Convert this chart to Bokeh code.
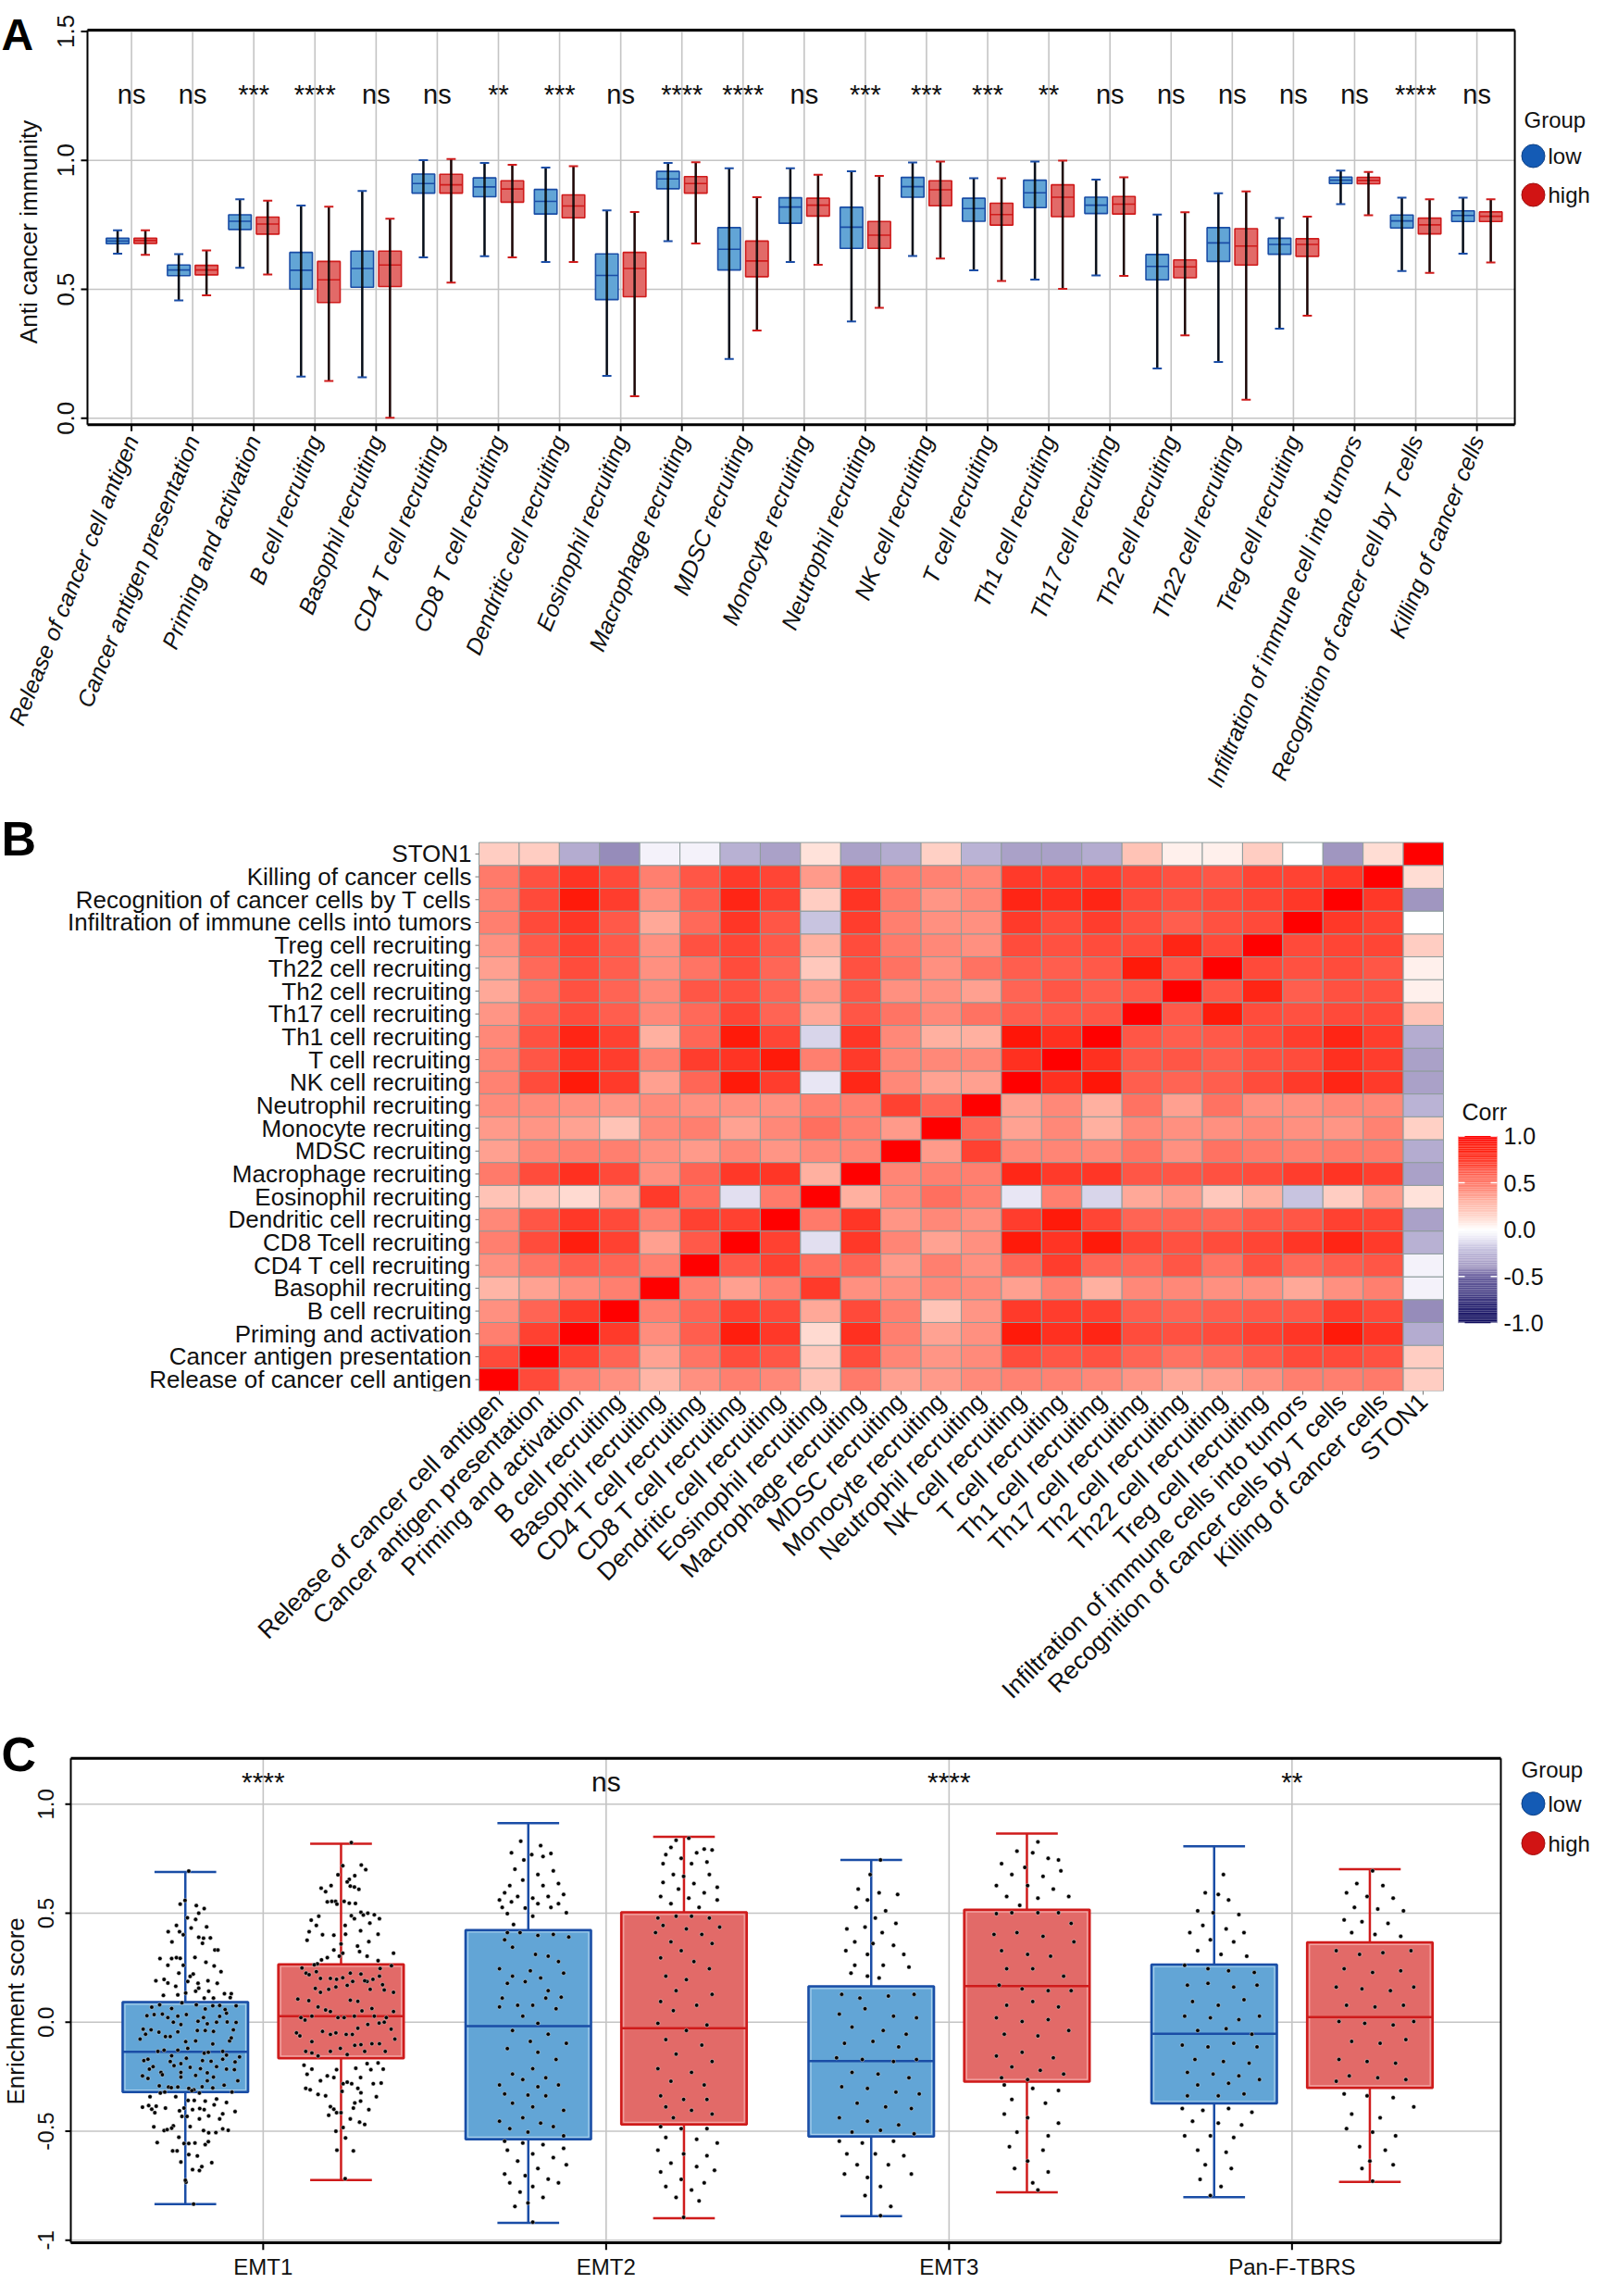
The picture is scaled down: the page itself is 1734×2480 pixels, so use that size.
import math
import numpy as np
from bokeh.plotting import figure
from bokeh.models import Range1d, FixedTicker, ColumnDataSource
from bokeh.layouts import column, row
from bokeh.embed import file_html
from bokeh.resources import INLINE
from bokeh.core.properties import value

FONT = "Liberation Sans"
TXT = "#111111"
BLUE_FILL, BLUE_LINE, BLUE_IN = "#62A5D6", "#1A4DA6", "#A9CFEC"
RED_FILL, RED_LINE, RED_IN = "#E26A68", "#CF1B1B", "#F3A8A6"
LEG_BLUE, LEG_RED = "#145BB5", "#D11414"
GRID = "#C4C4C4"
W = 1718

# ------------------------------------------------------------------ data A
a_categories = ["Release of cancer cell antigen", "Cancer antigen presentation",
                "Priming and activation", "B cell recruiting", "Basophil recruiting",
                "CD4 T cell recruiting", "CD8 T cell recruiting", "Dendritic cell recruiting",
                "Eosinophil recruiting", "Macrophage recruiting", "MDSC recruiting",
                "Monocyte recruiting", "Neutrophil recruiting", "NK cell recruiting",
                "T cell recruiting", "Th1 cell recruiting", "Th17 cell recruiting",
                "Th2 cell recruiting", "Th22 cell recruiting", "Treg cell recruiting",
                "Infiltration of immune cell into tumors", "Recognition of cancer cell by T cells",
                "Killing of cancer cells"]
a_signif = ["ns", "ns", "***", "****", "ns", "ns", "**", "***", "ns", "****", "****", "ns",
            "***", "***", "***", "**", "ns", "ns", "ns", "ns", "ns", "****", "ns"]
a_low_min = [0.638, 0.457, 0.583, 0.162, 0.159, 0.624, 0.628, 0.606, 0.164, 0.687, 0.230, 0.606,
             0.375, 0.629, 0.574, 0.538, 0.554, 0.193, 0.218, 0.347, 0.830, 0.571, 0.638]
a_low_q1 = [0.677, 0.553, 0.732, 0.501, 0.508, 0.873, 0.859, 0.792, 0.460, 0.890, 0.575, 0.756,
            0.659, 0.857, 0.764, 0.817, 0.794, 0.537, 0.608, 0.636, 0.910, 0.738, 0.763]
a_low_med = [0.687, 0.575, 0.764, 0.574, 0.581, 0.910, 0.897, 0.841, 0.554, 0.928, 0.655, 0.819,
             0.741, 0.898, 0.813, 0.874, 0.826, 0.589, 0.680, 0.674, 0.923, 0.765, 0.786]
a_low_q3 = [0.698, 0.594, 0.789, 0.643, 0.648, 0.947, 0.932, 0.887, 0.637, 0.957, 0.739, 0.855,
            0.818, 0.934, 0.853, 0.923, 0.857, 0.635, 0.739, 0.698, 0.935, 0.788, 0.804]
a_low_max = [0.729, 0.636, 0.849, 0.825, 0.881, 1.001, 0.990, 0.972, 0.806, 0.990, 0.969, 0.969,
             0.958, 0.992, 0.931, 0.995, 0.925, 0.790, 0.872, 0.776, 0.960, 0.855, 0.855]
a_high_min = [0.634, 0.477, 0.557, 0.145, 0.002, 0.526, 0.624, 0.606, 0.085, 0.678, 0.340, 0.595,
              0.428, 0.619, 0.532, 0.502, 0.552, 0.321, 0.072, 0.398, 0.787, 0.564, 0.604]
a_high_q1 = [0.678, 0.556, 0.714, 0.449, 0.511, 0.873, 0.838, 0.777, 0.471, 0.873, 0.549, 0.784,
             0.659, 0.824, 0.749, 0.782, 0.792, 0.545, 0.594, 0.628, 0.909, 0.715, 0.763]
a_high_med = [0.689, 0.575, 0.753, 0.537, 0.594, 0.905, 0.889, 0.823, 0.581, 0.910, 0.610, 0.826,
              0.710, 0.886, 0.790, 0.857, 0.830, 0.587, 0.668, 0.674, 0.922, 0.750, 0.783]
a_high_q3 = [0.698, 0.593, 0.780, 0.608, 0.648, 0.946, 0.921, 0.866, 0.643, 0.937, 0.687, 0.853,
             0.763, 0.921, 0.834, 0.905, 0.860, 0.614, 0.735, 0.696, 0.934, 0.776, 0.800]
a_high_max = [0.729, 0.651, 0.844, 0.820, 0.774, 1.005, 0.983, 0.977, 0.800, 0.993, 0.857, 0.944,
              0.940, 0.995, 0.931, 0.999, 0.934, 0.799, 0.880, 0.782, 0.955, 0.849, 0.849]
a_yticks = [0.0, 0.5, 1.0, 1.5]
a_ytitle = "Anti cancer immunity"
group_names = ["low", "high"]

# ------------------------------------------------------------------ data B
hm_x_labels = ["Release of cancer cell antigen", "Cancer antigen presentation",
               "Priming and activation", "B cell recruiting", "Basophil recruiting",
               "CD4 T cell recruiting", "CD8 T cell recruiting", "Dendritic cell recruiting",
               "Eosinophil recruiting", "Macrophage recruiting", "MDSC recruiting",
               "Monocyte recruiting", "Neutrophil recruiting", "NK cell recruiting",
               "T cell recruiting", "Th1 cell recruiting", "Th17 cell recruiting",
               "Th2 cell recruiting", "Th22 cell recruiting", "Treg cell recruiting",
               "Infiltration of immune cells into tumors", "Recognition of cancer cells by T cells",
               "Killing of cancer cells", "STON1"]
hm_y_labels = ["Release of cancer cell antigen", "Cancer antigen presentation",
               "Priming and activation", "B cell recruiting", "Basophil recruiting",
               "CD4 T cell recruiting", "CD8 Tcell recruiting", "Dendritic cell recruiting",
               "Eosinophil recruiting", "Macrophage recruiting", "MDSC recruiting",
               "Monocyte recruiting", "Neutrophil recruiting", "NK cell recruiting",
               "T cell recruiting", "Th1 cell recruiting", "Th17 cell recruiting",
               "Th2 cell recruiting", "Th22 cell recruiting", "Treg cell recruiting",
               "Infiltration of immune cells into tumors", "Recognition of cancer cells by T cells",
               "Killing of cancer cells", "STON1"]
# lower triangle of the correlation matrix (row i: columns 0..i-1), diagonal = 1
hm_corr_lower = [
    [],
    [0.68],
    [0.48, 0.72],
    [0.42, 0.58, 0.75],
    [0.28, 0.35, 0.43, 0.48],
    [0.42, 0.52, 0.60, 0.58, 0.48],
    [0.48, 0.67, 0.88, 0.72, 0.36, 0.62],
    [0.45, 0.63, 0.76, 0.68, 0.48, 0.72, 0.72],
    [0.22, 0.20, 0.13, 0.33, 0.75, 0.54, -0.12, 0.50],
    [0.50, 0.67, 0.80, 0.68, 0.42, 0.58, 0.76, 0.77, 0.30],
    [0.36, 0.46, 0.48, 0.48, 0.42, 0.38, 0.46, 0.40, 0.45, 0.46],
    [0.38, 0.40, 0.35, 0.22, 0.45, 0.48, 0.35, 0.45, 0.54, 0.48, 0.38],
    [0.44, 0.44, 0.42, 0.40, 0.44, 0.42, 0.42, 0.42, 0.48, 0.48, 0.72, 0.57],
    [0.47, 0.67, 0.90, 0.75, 0.36, 0.57, 0.90, 0.74, -0.10, 0.84, 0.45, 0.35, 0.36],
    [0.47, 0.63, 0.80, 0.74, 0.48, 0.74, 0.78, 0.90, 0.48, 0.75, 0.46, 0.45, 0.45, 0.80],
    [0.45, 0.65, 0.85, 0.72, 0.30, 0.57, 0.90, 0.70, -0.15, 0.77, 0.45, 0.30, 0.30, 0.92, 0.80],
    [0.40, 0.58, 0.67, 0.60, 0.45, 0.56, 0.70, 0.58, 0.33, 0.63, 0.52, 0.45, 0.53, 0.60, 0.62, 0.63],
    [0.33, 0.53, 0.65, 0.58, 0.45, 0.63, 0.65, 0.58, 0.38, 0.63, 0.42, 0.42, 0.36, 0.58, 0.63, 0.60, 0.62],
    [0.36, 0.56, 0.67, 0.60, 0.42, 0.52, 0.67, 0.57, 0.20, 0.65, 0.53, 0.42, 0.53, 0.60, 0.60, 0.62, 0.90, 0.63],
    [0.42, 0.62, 0.72, 0.62, 0.42, 0.65, 0.70, 0.62, 0.30, 0.67, 0.50, 0.45, 0.42, 0.67, 0.65, 0.67, 0.67, 0.85, 0.68],
    [0.48, 0.68, 0.77, 0.62, 0.33, 0.56, 0.77, 0.63, -0.20, 0.74, 0.48, 0.42, 0.42, 0.75, 0.67, 0.74, 0.65, 0.60, 0.65, 0.68],
    [0.48, 0.68, 0.90, 0.74, 0.42, 0.60, 0.85, 0.72, 0.18, 0.78, 0.50, 0.40, 0.45, 0.85, 0.80, 0.85, 0.68, 0.65, 0.67, 0.70, 0.76],
    [0.50, 0.65, 0.78, 0.68, 0.48, 0.63, 0.75, 0.70, 0.38, 0.73, 0.50, 0.47, 0.45, 0.75, 0.74, 0.74, 0.68, 0.65, 0.63, 0.70, 0.71, 0.76],
    [0.18, 0.18, -0.30, -0.42, -0.05, -0.05, -0.28, -0.35, 0.10, -0.35, -0.30, 0.17, -0.27, -0.35, -0.35, -0.30, 0.22, 0.05, 0.05, 0.18, 0.00, -0.40, 0.12],
]
cb_ticks = [-1.0, -0.5, 0.0, 0.5, 1.0]
cb_title = "Corr"

# ------------------------------------------------------------------ data C
c_categories = ["EMT1", "EMT2", "EMT3", "Pan-F-TBRS"]
c_signif = ["****", "ns", "****", "**"]
c_low_min = [-0.834, -0.920, -0.890, -0.802]
c_low_q1 = [-0.321, -0.537, -0.524, -0.373]
c_low_med = [-0.136, -0.018, -0.178, -0.053]
c_low_q3 = [0.092, 0.423, 0.165, 0.265]
c_low_max = [0.689, 0.913, 0.744, 0.807]
c_high_min = [-0.724, -0.899, -0.780, -0.732]
c_high_q1 = [-0.165, -0.469, -0.273, -0.301]
c_high_med = [0.028, -0.027, 0.166, 0.023]
c_high_q3 = [0.266, 0.504, 0.516, 0.366]
c_high_max = [0.819, 0.850, 0.865, 0.702]
c_yticks = [-1.0, -0.5, 0.0, 0.5, 1.0]
c_ytick_labels = ["-1", "-0.5", "0.0", "0.5", "1.0"]
c_ytitle = "Enrichment score"

# sample points (offset from box centre in category units, score)
c_emt1_low_dx = [0.010,-0.001,-0.015,0.032,0.055,0.039,0.006,0.030,-0.026,0.017,0.062,-0.050,-0.017,-0.006,0.039,0.053,0.073,-0.039,0.050,0.086,0.095,-0.074,-0.040,-0.026,-0.015,0.028,-0.051,-0.006,0.060,0.084,-0.019,0.104,0.023,0.014,-0.086,-0.062,-0.051,0.007,0.037,0.066,0.093,-0.028,0.039,0.030,0.068,0.114,0.134,-0.064,-0.022,0.001,0.055,0.082,0.131,-0.010,
    -0.098,-0.075,-0.040,0.032,0.058,0.080,0.100,0.116,0.148,-0.112,-0.091,-0.067,-0.051,-0.022,0.003,0.053,0.100,0.120,-0.035,-0.013,0.037,0.064,0.091,0.122,0.148,-0.123,-0.100,-0.116,-0.077,-0.058,-0.044,-0.022,0.035,0.058,0.082,0.140,-0.132,0.001,0.030,0.080,0.129,0.134,-0.080,-0.062,-0.040,-0.022,0.007,0.055,0.067,0.109,0.120,0.158,-0.121,-0.109,-0.094,-0.071,-0.044,-0.013,0.003,0.050,0.075,0.109,0.145,-0.105,-0.067,-0.033,-0.013,0.014,0.044,0.064,0.091,0.120,0.143,-0.125,-0.109,-0.013,0.030,0.082,0.064,0.153,-0.076,-0.049,-0.041,-0.022,0.010,0.025,0.049,0.080,0.113,-0.073,0.019,0.041,0.136,
    -0.103,-0.060,-0.028,0.008,0.026,0.058,0.091,0.120,-0.125,-0.107,-0.098,-0.085,-0.058,-0.017,-0.004,0.021,0.042,0.055,0.084,0.109,0.145,-0.089,-0.010,0.005,0.041,0.068,0.100,-0.092,-0.062,-0.053,-0.035,-0.040,0.014,0.053,0.068,0.089,0.109,0.125,-0.019,-0.082,-0.004,0.010,0.028,0.058,0.067,-0.037,-0.024,0.010,0.035,-0.013,0.021,0.041,0.048,0.077,0.002,0.024,0.000]
c_emt1_low_y = [0.693,0.559,0.542,0.535,0.521,0.500,0.479,0.472,0.444,0.432,0.437,0.415,0.415,0.401,0.390,0.385,0.387,0.368,0.362,0.331,0.331,0.292,0.292,0.296,0.293,0.297,0.261,0.261,0.275,0.258,0.225,0.232,0.221,0.210,0.190,0.196,0.180,0.187,0.179,0.190,0.179,0.165,0.156,0.142,0.142,0.131,0.131,0.123,0.125,0.134,0.111,0.111,0.113,0.089,
    0.069,0.080,0.063,0.080,0.061,0.075,0.077,0.058,0.075,0.030,0.035,0.037,0.021,0.028,0.035,0.021,0.027,0.041,0.000,-0.011,0.004,-0.007,0.000,0.001,-0.001,-0.032,-0.035,-0.055,-0.046,-0.066,-0.066,-0.044,-0.038,-0.038,-0.042,-0.035,-0.077,-0.089,-0.086,-0.100,-0.086,-0.072,-0.134,-0.128,-0.154,-0.128,-0.120,-0.142,-0.138,-0.134,-0.151,-0.159,-0.176,-0.170,-0.204,-0.230,-0.180,-0.190,-0.165,-0.176,-0.179,-0.170,-0.182,-0.215,-0.241,-0.199,-0.230,-0.207,-0.213,-0.232,-0.204,-0.215,-0.218,-0.246,-0.258,-0.252,-0.244,-0.252,-0.269,-0.269,-0.292,-0.297,-0.300,-0.297,-0.303,-0.310,-0.296,-0.301,-0.289,-0.325,-0.314,-0.325,-0.320,
    -0.342,-0.320,-0.342,-0.359,-0.359,-0.362,-0.352,-0.368,-0.390,-0.382,-0.399,-0.385,-0.394,-0.406,-0.394,-0.401,-0.396,-0.401,-0.379,-0.420,-0.410,-0.415,-0.432,-0.432,-0.444,-0.430,-0.444,-0.480,-0.497,-0.493,-0.475,-0.486,-0.479,-0.497,-0.507,-0.506,-0.489,-0.496,-0.528,-0.552,-0.556,-0.556,-0.554,-0.561,-0.548,-0.590,-0.590,-0.607,-0.613,-0.641,-0.676,-0.680,-0.662,-0.644,-0.734,-0.834,-0.725]

c_emt1_high_pts = [(0.030,0.824),(0.005,0.718),(0.059,0.721),(0.072,0.700),(-0.009,0.676),(0.024,0.655),(0.018,0.644),(0.040,0.672),(-0.058,0.615),(-0.045,0.599),(-0.029,0.627),(0.027,0.624),(0.039,0.620),(0.052,0.610),(-0.040,0.552),(-0.027,0.554),(-0.016,0.554),(-0.012,0.542),(0.009,0.554),(0.024,0.546),(0.042,0.545),(0.030,0.489),(0.039,0.475),(0.058,0.504),(0.065,0.492),(0.078,0.500),(0.097,0.493),(0.112,0.475),(0.084,0.455),(-0.087,0.468),(-0.065,0.486),(-0.072,0.444),(-0.093,0.415),(-0.099,0.376),(-0.054,0.401),(-0.021,0.399),(0.012,0.444),(0.013,0.404),(0.057,0.420),(0.108,0.404),(0.081,0.370),(0.000,0.359),(0.048,0.349),(0.054,0.324),(-0.021,0.331),(0.005,0.317),(-0.005,0.303),(0.153,0.317),(0.108,0.282),(0.076,0.303),(-0.040,0.296),(-0.057,0.286),(-0.069,0.268),(-0.078,0.263),
    (-0.114,0.249),(-0.102,0.225),(-0.093,0.218),(-0.072,0.232),(-0.060,0.201),(-0.031,0.201),(-0.013,0.197),(0.005,0.204),(0.027,0.225),(0.058,0.221),(0.076,0.187),(0.093,0.197),(0.114,0.246),(0.147,0.259),(0.112,0.211),(0.121,0.172),
    (-0.126,0.106),(-0.094,0.099),(-0.075,0.155),(-0.060,0.137),(-0.036,0.151),(-0.015,0.162),(0.018,0.169),(0.034,0.187),(0.069,0.190),(0.085,0.151),(0.126,0.148),(0.153,0.137),(0.027,0.101),(0.049,0.096),
    (-0.117,0.021),(-0.105,0.010),(-0.085,0.028),(-0.067,0.070),(-0.045,0.056),(-0.031,0.049),(-0.009,0.021),(0.009,0.021),(0.039,0.028),(0.061,0.052),(0.090,0.063),(0.097,0.028),(0.132,0.021),(0.153,0.049),
    (-0.130,-0.049),(-0.120,-0.063),(-0.085,-0.089),(-0.054,-0.042),(-0.031,-0.056),(-0.015,-0.049),(0.015,-0.056),(0.033,-0.056),(0.049,-0.028),(0.078,-0.010),(0.111,-0.004),(0.126,0.000),(0.146,-0.032),(0.157,-0.077),(0.112,-0.099),
    (-0.103,-0.134),(-0.085,-0.141),(-0.067,-0.155),(-0.031,-0.134),(-0.002,-0.120),(0.018,-0.148),(0.040,-0.106),(0.058,-0.103),(0.069,-0.134),(0.090,-0.099),(0.129,-0.134),
    (-0.108,-0.197),(-0.099,-0.239),(-0.085,-0.215),(-0.060,-0.268),(-0.040,-0.246),(-0.021,-0.254),(-0.013,-0.218),(0.006,-0.282),(0.018,-0.275),(0.031,-0.282),(0.043,-0.211),(0.057,-0.254),(0.076,-0.190),(0.087,-0.218),(0.108,-0.187),(0.123,-0.215),
    (-0.103,-0.303),(-0.090,-0.310),(-0.067,-0.331),(-0.045,-0.338),(0.003,-0.317),(0.049,-0.303),(0.058,-0.324),(0.094,-0.282),(0.103,-0.342),(0.117,-0.279),
    (-0.031,-0.387),(-0.021,-0.399),(-0.036,-0.427),(-0.013,-0.415),(0.000,-0.415),(0.040,-0.370),(0.057,-0.362),(0.036,-0.394),(0.027,-0.444),(0.054,-0.458),(0.069,-0.469),(0.081,-0.401),
    (-0.015,-0.500),(0.006,-0.483),(0.013,-0.531),(-0.012,-0.587),(0.036,-0.590),(0.012,-0.718)]

c_emt2_low_pts = [(-0.022,0.830),(0.036,0.810),(-0.049,0.777),(0.010,0.769),(0.066,0.774),(-0.013,0.744),(0.043,0.760),(-0.039,0.702),(0.073,0.694),(0.028,0.677),(-0.016,0.652),(0.088,0.636),(-0.054,0.627),(0.043,0.627),(-0.069,0.594),(-0.031,0.577),(0.013,0.569),(0.058,0.577),(0.103,0.586),(-0.084,0.561),(-0.049,0.552),(0.028,0.544),(0.088,0.544),(-0.076,0.527),(-0.009,0.524),(0.066,0.527),(0.111,0.502),(-0.061,0.498),(0.013,0.486),(-0.043,0.448),(-0.061,0.411),(-0.024,0.411),(0.028,0.398),(0.073,0.403),(0.118,0.391),(-0.069,0.378),(-0.046,0.344),(0.021,0.311),(0.058,0.303),(0.088,0.278),(-0.084,0.245),(0.006,0.236),(-0.046,0.211),(0.036,0.203),(0.103,0.225),(-0.061,0.178),(-0.009,0.186),(0.058,0.145),(-0.076,0.111),(0.051,0.111),(0.096,0.115),(0.013,0.078),(-0.084,0.070),(-0.031,0.078),(0.081,0.062),(-0.016,0.028),(0.028,-0.005),(-0.046,-0.038),(0.058,-0.055),(0.111,-0.097),(0.006,-0.088),(-0.061,-0.121),(0.028,-0.138),(0.081,-0.171),(0.013,-0.213),(-0.046,-0.238),(0.051,-0.255),(-0.016,-0.263),(-0.084,-0.288),(0.028,-0.296),(0.088,-0.288),(-0.001,-0.334),(0.051,-0.338),(-0.069,-0.329),(-0.046,-0.371),(0.103,-0.404),(0.013,-0.388),(-0.016,-0.438),(-0.084,-0.454),(0.036,-0.463),(0.073,-0.479),(-0.054,-0.488),(-0.001,-0.504),(0.103,-0.521),(-0.069,-0.546),(-0.016,-0.554),(0.043,-0.562),(0.103,-0.579),(-0.061,-0.587),(0.013,-0.604),(0.073,-0.621),(-0.031,-0.637),(0.111,-0.654),(0.028,-0.671),(-0.069,-0.696),(-0.009,-0.704),(0.058,-0.720),(-0.054,-0.737),(0.013,-0.754),(0.088,-0.737),(-0.024,-0.779),(0.043,-0.804),(-0.001,-0.829),(-0.039,-0.845),(0.013,-0.917)]

c_emt2_high_pts = [(-0.023,0.835),(0.014,0.844),(-0.038,0.802),(0.059,0.794),(0.082,0.790),(-0.053,0.769),(-0.008,0.752),(0.037,0.777),(-0.061,0.727),(0.022,0.727),(0.067,0.735),(-0.031,0.677),(-0.001,0.669),(0.074,0.677),(-0.061,0.641),(0.029,0.636),(0.097,0.619),(-0.016,0.611),(0.059,0.594),(-0.068,0.577),(0.014,0.569),(0.097,0.561),(-0.038,0.544),(0.044,0.527),(-0.076,0.478),(-0.023,0.486),(0.022,0.486),(0.074,0.478),(-0.061,0.444),(0.007,0.428),(0.104,0.436),(-0.083,0.411),(0.052,0.403),(-0.038,0.369),(0.082,0.361),(-0.008,0.328),(-0.068,0.295),(0.029,0.278),(0.074,0.245),(-0.053,0.211),(0.007,0.195),(-0.023,0.145),(0.082,0.128),(-0.068,0.095),(0.037,0.078),(-0.031,0.053),(-0.076,-0.005),(0.067,-0.013),(0.007,-0.038),(-0.053,-0.080),(0.052,-0.105),(-0.023,-0.146),(0.082,-0.180),(-0.076,-0.213),(0.022,-0.230),(-0.038,-0.271),(0.059,-0.288),(-0.068,-0.338),(-0.001,-0.354),(0.067,-0.354),(-0.053,-0.388),(0.022,-0.404),(0.082,-0.421),(-0.031,-0.438),(-0.068,-0.479),(-0.008,-0.488),(0.067,-0.488),(-0.053,-0.529),(0.037,-0.537),(0.097,-0.554),(-0.076,-0.587),(-0.001,-0.604),(0.067,-0.612),(-0.038,-0.646),(0.037,-0.662),(-0.068,-0.687),(0.089,-0.679),(-0.008,-0.721),(0.059,-0.737),(-0.053,-0.754),(0.022,-0.770),(-0.023,-0.804),(0.044,-0.820),(-0.001,-0.895)]

c_emt3_low_pts = [(0.027,0.744),(-0.003,0.677),(-0.038,0.611),(0.023,0.594),(0.077,0.586),(-0.011,0.561),(-0.044,0.527),(0.042,0.511),(0.012,0.478),(0.072,0.453),(-0.071,0.428),(-0.018,0.436),(0.032,0.411),(-0.048,0.369),(0.005,0.361),(0.065,0.353),(-0.074,0.328),(-0.011,0.311),(0.095,0.311),(-0.048,0.261),(0.035,0.261),(0.110,0.253),(-0.059,0.225),(-0.011,0.211),(0.023,0.203),(-0.086,0.128),(-0.033,0.111),(0.050,0.120),(0.125,0.128),(-0.093,0.037),(-0.018,0.062),(0.065,0.028),(0.132,0.020),(-0.056,-0.022),(0.035,-0.038),(0.102,-0.055),(-0.078,-0.097),(0.005,-0.088),(0.080,-0.113),(-0.101,-0.163),(-0.026,-0.171),(0.065,-0.180),(0.132,-0.171),(-0.056,-0.230),(0.020,-0.238),(0.110,-0.255),(-0.086,-0.296),(-0.011,-0.304),(0.072,-0.321),(0.140,-0.329),(-0.041,-0.371),(0.042,-0.388),(0.117,-0.396),(-0.093,-0.438),(-0.011,-0.454),(0.080,-0.471),(-0.056,-0.504),(0.027,-0.496),(0.125,-0.512),(-0.093,-0.546),(-0.026,-0.554),(0.065,-0.546),(-0.071,-0.604),(0.012,-0.604),(0.095,-0.612),(-0.041,-0.654),(0.050,-0.654),(0.117,-0.696),(-0.078,-0.696),(-0.011,-0.712),(0.027,-0.754),(-0.018,-0.795),(0.057,-0.845),(0.027,-0.887)]

c_emt3_high_pts = [(0.032,0.827),(-0.029,0.785),(0.017,0.777),(0.062,0.752),(-0.074,0.727),(-0.006,0.710),(0.092,0.744),(-0.044,0.677),(0.047,0.669),(0.099,0.694),(-0.089,0.627),(0.002,0.627),(0.077,0.611),(-0.059,0.577),(0.032,0.569),(0.122,0.577),(-0.021,0.536),(-0.089,0.498),(-0.044,0.502),(0.032,0.502),(0.092,0.502),(0.129,0.453),(-0.096,0.403),(-0.029,0.411),(0.047,0.394),(0.137,0.369),(-0.074,0.328),(0.002,0.311),(0.069,0.303),(-0.059,0.245),(0.017,0.245),(0.107,0.211),(-0.081,0.170),(-0.014,0.153),(0.062,0.145),(0.129,0.145),(-0.059,0.078),(0.017,0.095),(0.092,0.070),(-0.089,0.020),(-0.014,0.003),(0.062,0.012),(0.122,-0.038),(-0.066,-0.055),(0.032,-0.063),(-0.089,-0.155),(-0.014,-0.138),(0.077,-0.163),(-0.044,-0.205),(0.039,-0.221),(0.107,-0.238),(-0.074,-0.255),(0.002,-0.263),(-0.066,-0.288),(0.017,-0.304),(0.092,-0.313),(-0.044,-0.354),(0.054,-0.371),(-0.066,-0.421),(0.002,-0.438),(0.092,-0.463),(-0.029,-0.504),(0.062,-0.521),(-0.051,-0.571),(0.047,-0.587),(0.002,-0.637),(-0.036,-0.671),(0.062,-0.687),(0.017,-0.737),(0.032,-0.770)]

c_pan_low_pts = [(0.027,0.677),(-0.026,0.594),(0.012,0.586),(0.042,0.561),(-0.048,0.511),(-0.003,0.502),(0.072,0.494),(-0.033,0.444),(0.035,0.428),(0.087,0.411),(-0.071,0.411),(-0.011,0.378),(0.057,0.369),(-0.048,0.328),(0.020,0.311),(0.095,0.303),(-0.086,0.261),(-0.018,0.245),(0.042,0.236),(0.117,0.228),(-0.078,0.170),(-0.018,0.178),(0.057,0.161),(0.125,0.170),(-0.063,0.095),(0.012,0.078),(0.087,0.103),(-0.086,0.028),(-0.011,0.020),(0.072,0.012),(0.132,0.028),(-0.048,-0.038),(0.035,-0.030),(0.110,-0.055),(-0.093,-0.105),(-0.018,-0.113),(0.057,-0.097),(0.125,-0.113),(-0.056,-0.171),(0.027,-0.180),(0.102,-0.188),(-0.078,-0.230),(-0.003,-0.238),(0.072,-0.246),(0.132,-0.263),(-0.048,-0.288),(0.042,-0.280),(-0.078,-0.338),(0.012,-0.338),(0.087,-0.329),(-0.093,-0.396),(-0.033,-0.404),(0.042,-0.396),(0.110,-0.413),(-0.063,-0.454),(0.012,-0.463),(0.080,-0.471),(-0.086,-0.521),(-0.011,-0.521),(0.057,-0.529),(-0.048,-0.587),(0.035,-0.596),(-0.026,-0.654),(0.050,-0.671),(-0.041,-0.721),(0.020,-0.754),(-0.011,-0.795)]

c_pan_high_pts = [(0.008,0.694),(-0.038,0.636),(0.038,0.627),(-0.068,0.594),(-0.008,0.577),(0.068,0.569),(-0.045,0.527),(0.023,0.519),(0.098,0.511),(-0.075,0.469),(-0.023,0.461),(0.053,0.453),(-0.053,0.411),(0.015,0.403),(0.090,0.394),(-0.098,0.328),(-0.030,0.311),(0.038,0.319),(0.120,0.328),(-0.075,0.245),(0.008,0.228),(0.090,0.236),(-0.098,0.161),(-0.023,0.153),(0.060,0.145),(0.128,0.161),(-0.068,0.078),(0.015,0.070),(0.098,0.078),(-0.090,0.003),(-0.015,-0.005),(0.068,-0.013),(0.128,0.003),(-0.053,-0.088),(0.030,-0.097),(0.105,-0.080),(-0.090,-0.171),(-0.008,-0.180),(0.075,-0.188),(-0.060,-0.246),(0.023,-0.255),(0.105,-0.263),(-0.098,-0.271),(-0.075,-0.329),(-0.008,-0.338),(0.068,-0.346),(0.128,-0.388),(-0.053,-0.421),(0.030,-0.438),(-0.068,-0.488),(0.008,-0.504),(0.075,-0.521),(-0.030,-0.571),(0.045,-0.587),(0.000,-0.637),(-0.023,-0.671),(0.068,-0.654),(0.008,-0.729)]

c_low_points = [list(zip(c_emt1_low_dx, c_emt1_low_y)), c_emt2_low_pts, c_emt3_low_pts, c_pan_low_pts]
c_high_points = [c_emt1_high_pts, c_emt2_high_pts, c_emt3_high_pts, c_pan_high_pts]

# colour scale anchors (style)
cmap_vals = [-1.0, -0.5, -0.4, -0.3, -0.2, -0.1, 0.0, 0.1, 0.2, 0.3, 0.4, 0.5, 0.6, 0.7, 0.8, 0.9, 1.0]
cmap_rgb = [(12, 10, 92), (108, 98, 160), (160, 150, 192), (180, 172, 208), (200, 196, 224),
            (232, 230, 244), (255, 255, 255), (255, 226, 218), (255, 200, 188), (255, 176, 160),
            (255, 149, 133), (255, 122, 106), (255, 94, 78), (255, 69, 53), (255, 48, 32),
            (255, 26, 10), (255, 0, 0)]


def corr_color(t):
    r = np.interp(t, cmap_vals, [c[0] for c in cmap_rgb])
    g = np.interp(t, cmap_vals, [c[1] for c in cmap_rgb])
    b = np.interp(t, cmap_vals, [c[2] for c in cmap_rgb])
    return "#%02x%02x%02x" % (int(round(r)), int(round(g)), int(round(b)))


def txt(p, x, y, t, size, align="left", base="middle", angle=0.0, style="normal", color=TXT):
    p.text(x=x, y=y, text=t, text_font=value(FONT), text_font_size=size, text_align=align,
           text_baseline=base, angle=angle, text_font_style=style, text_color=color)


def style_xaxis(ax, size, style="normal"):
    ax.major_label_text_font = FONT
    ax.major_label_text_font_size = size
    ax.major_label_text_font_style = style
    ax.major_label_text_color = TXT
    ax.minor_tick_line_color = None
    ax.axis_line_color = None


def base_fig(height, xr, yr, bottom):
    f = figure(width=W, height=height, x_range=Range1d(*xr), y_range=Range1d(*yr),
               min_border_left=0, min_border_right=0, min_border_top=0, min_border_bottom=bottom,
               y_axis_location=None, title=None, output_backend="svg", toolbar_location=None)
    f.outline_line_color = None
    f.grid.visible = False
    return f


def add_legend(p, gx, gy, cx, ys, tx):
    txt(p, [gx], [gy], ["Group"], "24px")
    p.scatter(x=[cx, cx], y=ys, size=25, fill_color=[LEG_BLUE, LEG_RED],
              line_color=["#0B3F85", "#9E0D0D"], line_width=1)
    txt(p, [tx, tx], ys, group_names, "24px")


def box_frame(p, x0, x1, y0, y1, xticks, yticks, tick_len):
    p.segment(x0=xticks, y0=[y0] * len(xticks), x1=xticks, y1=[y1] * len(xticks),
              line_color=GRID, line_width=1.6)
    p.segment(x0=[x0] * len(yticks), y0=yticks, x1=[x1] * len(yticks), y1=yticks,
              line_color=GRID, line_width=1.6)
    p.segment(x0=[x0, x0], y0=[y0, y1], x1=[x1, x1], y1=[y0, y1], line_color="black", line_width=3)
    p.segment(x0=[x0, x1], y0=[y0, y0], x1=[x0, x1], y1=[y1, y1], line_color="black", line_width=2)
    p.segment(x0=xticks, y0=[y0] * len(xticks), x1=xticks, y1=[y0 - tick_len] * len(xticks),
              line_color="black", line_width=2)


# ================================================================ Panel A  (page y 8..870)
A_PX, A_PY = 66.07, 278.6
ax_ = lambda px: 0.28 + (px - 102) / A_PX
ay_ = lambda py: 1.505 - (py - 40) / A_PY
nA = len(a_categories)
ax_pos = np.arange(1, nA + 1, dtype=float)
A_X0, A_X1, A_Y0, A_Y1 = 0.28, 23.62, -0.025, 1.505
pA = base_fig(862, (ax_(8), ax_(1726)), (ay_(478), ay_(8)), 392)
box_frame(pA, A_X0, A_X1, A_Y0, A_Y1, list(ax_pos), a_yticks, 7 / A_PY)

offA, bwA, capA = 0.227, 0.37, 0.075
for sgn, fill, line, lo, q1, md, q3, hi in [
        (-1, BLUE_FILL, BLUE_LINE, a_low_min, a_low_q1, a_low_med, a_low_q3, a_low_max),
        (1, RED_FILL, RED_LINE, a_high_min, a_high_q1, a_high_med, a_high_q3, a_high_max)]:
    x = ax_pos + sgn * offA
    pA.segment(x0=x, y0=lo, x1=x, y1=hi, line_color=line, line_width=1.5)
    pA.vbar(x=x, width=bwA, bottom=q1, top=q3, fill_color=fill, line_color=line, line_width=1.6)
    pA.segment(x0=x - bwA / 2, y0=md, x1=x + bwA / 2, y1=md, line_color=line, line_width=1.6)
    pA.segment(x0=x, y0=lo, x1=x, y1=hi, line_color="black", line_width=2.6, line_alpha=0.85)
    pA.segment(x0=x - capA, y0=lo, x1=x + capA, y1=lo, line_color=line, line_width=2)
    pA.segment(x0=x - capA, y0=hi, x1=x + capA, y1=hi, line_color=line, line_width=2)

txt(pA, ax_pos, [1.255] * nA, a_signif, "29px", align="center", base="alphabetic")
add_legend(pA, ax_(1654), ay_(137), ax_(1664), [ay_(176), ay_(218)], ax_(1680))
# y axis (ticks, labels, title)
pA.segment(x0=[ax_(95)] * 4, y0=a_yticks, x1=[A_X0] * 4, y1=a_yticks, line_color="black", line_width=2)
txt(pA, [ax_(78)] * 4, a_yticks, ["%.1f" % t for t in a_yticks], "26px", align="center",
    angle=math.pi / 2)
txt(pA, [ax_(38)], [ay_(258)], [a_ytitle], "26px", align="center", angle=math.pi / 2)
txt(pA, [ax_(9)], [ay_(45)], ["A"], "48px", base="alphabetic", style="bold", color="black")
# x axis labels
pA.xaxis.ticker = FixedTicker(ticks=list(ax_pos))
pA.xaxis.major_label_overrides = {float(p): c for p, c in zip(ax_pos, a_categories)}
pA.xaxis.major_label_orientation = math.radians(68)
style_xaxis(pA.xaxis, "25px", "italic")
pA.xaxis.major_tick_line_color = None
pA.xaxis.major_tick_out = 0
pA.xaxis.major_tick_in = 0
pA.xaxis.major_label_standoff = 1

# ================================================================ Panel B  (page y 870..1862)
B_PX, B_PY = 43.417, 24.917
bx_ = lambda px: (px - 525) / B_PX
by_ = lambda py: (1516 - py) / B_PY
nH = len(hm_x_labels)
M = np.eye(nH)
for i, vals in enumerate(hm_corr_lower):
    for j, v in enumerate(vals):
        M[i, j] = v
        M[j, i] = v
cx_list, cy_list, cc_list = [], [], []
for i in range(nH):
    for j in range(nH):
        cx_list.append(j + 0.5)
        cy_list.append(i + 0.5)
        cc_list.append(corr_color(float(M[i, j])))
src = ColumnDataSource(dict(x=cx_list, y=cy_list, c=cc_list))

pB = base_fig(992, (bx_(8), bx_(1726)), (0, by_(870)), 346)
pB.rect(x="x", y="y", width=1, height=1, source=src, fill_color="c",
        line_color="#8E9C9C", line_width=1)
centers = [k + 0.5 for k in range(nH)]
pB.segment(x0=[bx_(521)] * nH, y0=centers, x1=[0] * nH, y1=centers, line_color="#777777", line_width=1)
txt(pB, [bx_(517)] * nH, centers, hm_y_labels, "26px", align="right")
txt(pB, [bx_(9)], [by_(914)], ["B"], "52px", base="alphabetic", style="bold", color="black")
pB.xaxis.ticker = FixedTicker(ticks=centers)
pB.xaxis.major_label_overrides = {c: l for c, l in zip(centers, hm_x_labels)}
pB.xaxis.major_label_orientation = math.pi / 4
style_xaxis(pB.xaxis, "27px")
pB.xaxis.major_tick_line_color = "#777777"
pB.xaxis.major_tick_out = 4
pB.xaxis.major_tick_in = 0
pB.xaxis.major_label_standoff = 3

# colour bar (legend of the fill scale)
CB_X0, CB_X1, CB_Y0, CB_Y1 = bx_(1583), bx_(1625), by_(1442), by_(1238)
steps = np.linspace(-1, 1, 121)
cb_v0, cb_v1 = steps[:-1], steps[1:]
cb_y = lambda v: CB_Y0 + (np.asarray(v) + 1) / 2 * (CB_Y1 - CB_Y0)
pB.quad(left=CB_X0, right=CB_X1, bottom=cb_y(cb_v0), top=cb_y(cb_v1),
        fill_color=[corr_color((a + b) / 2) for a, b in zip(cb_v0, cb_v1)], line_color=None)
tick_y = cb_y(cb_ticks)
nt = len(cb_ticks)
pB.segment(x0=[CB_X0] * nt, y0=tick_y, x1=[bx_(1590)] * nt, y1=tick_y, line_color="white", line_width=1.5)
pB.segment(x0=[bx_(1618)] * nt, y0=tick_y, x1=[CB_X1] * nt, y1=tick_y, line_color="white", line_width=1.5)
txt(pB, [bx_(1632)] * nt, tick_y, ["%.1f" % t for t in cb_ticks], "25px")
txt(pB, [bx_(1587)], [by_(1212)], [cb_title], "25px")

# ================================================================ Panel C  (page y 1862..2472)
C_PX, C_PY = 370.5, 236.3
cx_ = lambda px: 0.439 + (px - 84) / C_PX
cy_ = lambda py: 1.21 - (py - 1907) / C_PY
nC = len(c_categories)
cpos = np.arange(1, nC + 1, dtype=float)
C_X0, C_X1, C_Y0, C_Y1 = 0.439, 4.609, -1.012, 1.21
pC = base_fig(610, (cx_(8), cx_(1726)), (cy_(2440), cy_(1862)), 32)
box_frame(pC, C_X0, C_X1, C_Y0, C_Y1, list(cpos), c_yticks, 8 / C_PY)

offC, bwC, capC = 0.227, 0.366, 0.09
for sgn, fill, line, inner, lo, q1, md, q3, hi, pts in [
        (-1, BLUE_FILL, BLUE_LINE, BLUE_IN, c_low_min, c_low_q1, c_low_med, c_low_q3, c_low_max, c_low_points),
        (1, RED_FILL, RED_LINE, RED_IN, c_high_min, c_high_q1, c_high_med, c_high_q3, c_high_max, c_high_points)]:
    x = cpos + sgn * offC
    pC.segment(x0=x, y0=lo, x1=x, y1=hi, line_color=line, line_width=2.5)
    pC.segment(x0=x - capC, y0=lo, x1=x + capC, y1=lo, line_color=line, line_width=2.5)
    pC.segment(x0=x - capC, y0=hi, x1=x + capC, y1=hi, line_color=line, line_width=2.5)
    pC.vbar(x=x, width=bwC, bottom=q1, top=q3, fill_color=fill, line_color=line, line_width=2.5)
    pC.vbar(x=x, width=bwC - 0.014, bottom=np.array(q1) + 0.01, top=np.array(q3) - 0.01,
            fill_color=None, line_color=inner, line_width=1.2)
    pC.segment(x0=x - bwC / 2, y0=md, x1=x + bwC / 2, y1=md, line_color=line, line_width=2.5)
    dx, dy = [], []
    for k, grp in enumerate(pts):
        for (ox, yv) in grp:
            dx.append(x[k] + ox)
            dy.append(yv)
    pC.scatter(x=dx, y=dy, size=4.5, color="black", line_color="#ffffff", line_width=0.4)

txt(pC, cpos, [1.105] * nC, c_signif, "30px", align="center", base="alphabetic")
add_legend(pC, cx_(1651), cy_(1919), cx_(1664), [cy_(1956), cy_(1999)], cx_(1680))
nyc = len(c_yticks)
pC.segment(x0=[cx_(78)] * nyc, y0=c_yticks, x1=[C_X0] * nyc, y1=c_yticks, line_color="black", line_width=2)
txt(pC, [cx_(57)] * nyc, c_yticks, c_ytick_labels, "24px", align="center", angle=math.pi / 2)
txt(pC, [cx_(24)], [cy_(2181)], [c_ytitle], "26px", align="center", angle=math.pi / 2)
txt(pC, [cx_(9)], [cy_(1903)], ["C"], "52px", base="alphabetic", style="bold", color="black")
pC.xaxis.ticker = FixedTicker(ticks=list(cpos))
pC.xaxis.major_label_overrides = {float(p): c for p, c in zip(cpos, c_categories)}
style_xaxis(pC.xaxis, "24px")
pC.xaxis.major_tick_line_color = None
pC.xaxis.major_tick_out = 0
pC.xaxis.major_tick_in = 0
pC.xaxis.major_label_standoff = 4

# each figure in its own row so the column does not align their frames
layout = column(row(pA), row(pB), row(pC))
open("out.html", "w").write(file_html(layout, INLINE, "chart"))
